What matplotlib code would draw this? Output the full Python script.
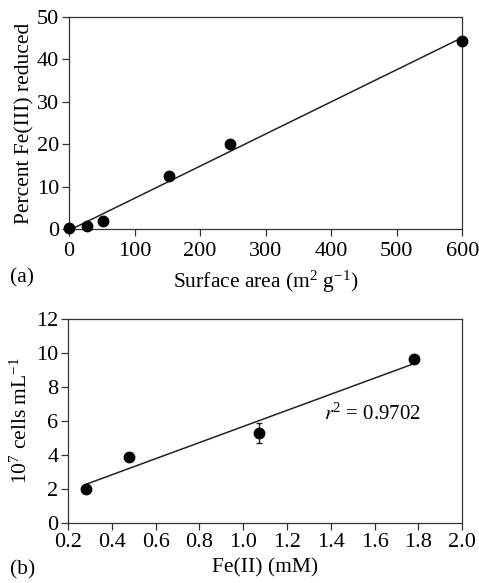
import numpy as np
import matplotlib
matplotlib.use("Agg")
import matplotlib.pyplot as plt

# panel (a) data
area = [0, 27, 52, 153, 245, 600]
pct_reduced = [0.3, 0.8, 1.8, 12.5, 20.0, 44.3]

# panel (b) data
fe2 = [0.28, 0.48, 1.07, 1.78]
cells = [2.0, 3.9, 5.3, 9.65]
cells_err = [0, 0, 0.6, 0]

plt.rcParams['font.family'] = ['Liberation Serif', 'DejaVu Serif']
plt.rcParams['mathtext.fontset'] = 'stix'
plt.rcParams['mathtext.default'] = 'regular'
plt.rcParams['font.size'] = 15.5
plt.rcParams['xtick.labelsize'] = 16
plt.rcParams['ytick.labelsize'] = 16

edge = '#333333'

fig = plt.figure(figsize=(4.79, 5.83), dpi=100)
ax1 = fig.add_axes([0.144, 0.607, 0.821, 0.364])
ax2 = fig.add_axes([0.142, 0.103, 0.823, 0.350])

for ax in (ax1, ax2):
    for s in ax.spines.values():
        s.set_color(edge)
        s.set_linewidth(0.9)
    ax.tick_params(direction='out', length=5, width=0.9, color=edge, pad=2)
ax1.tick_params(axis='x', pad=4)

# (a)
fit_a = np.polyfit(area, pct_reduced, 1)
xs = np.array([0, 600])
ax1.plot(xs, np.polyval(fit_a, xs), color='#222222', lw=1.1)
ax1.plot(area, pct_reduced, 'o', color='black', ms=7.5, clip_on=False, zorder=3)
ax1.set_xlim(0, 600)
ax1.set_ylim(0, 50)
ax1.set_xticks(range(0, 601, 100))
ax1.set_yticks(range(0, 51, 10))
ax1.set_ylabel('Percent Fe(III) reduced', labelpad=2)
ax1.set_xlabel('Surface area (m$^2$ g$^{-1}$)', labelpad=6)
fig.text(0.02, 0.524, '(a)', ha='left', va='center')

# (b)
fit_b = np.polyfit(fe2, cells, 1)
xb = np.array([min(fe2), max(fe2)])
ax2.plot(xb, np.polyval(fit_b, xb), color='#222222', lw=1.1)
ax2.errorbar(fe2, cells, yerr=cells_err, fmt='o', color='black', ms=7.5,
             ecolor='#222222', elinewidth=1, capsize=2.5, clip_on=False, zorder=3)
ax2.set_xlim(0.2, 2.0)
ax2.set_ylim(0, 12)
ax2.set_xticks(np.arange(0.2, 2.01, 0.2))
ax2.set_xticklabels([f'{v:.1f}' for v in np.arange(0.2, 2.01, 0.2)])
ax2.set_yticks(range(0, 13, 2))
ax2.set_ylabel('10$^7$ cells mL$^{-1}$', labelpad=3)
ax2.set_xlabel('Fe(II) (mM)', labelpad=5)
ax2.text(1.37, 6.4, '$\\mathit{r}^2$ = 0.9702', va='center', ha='left', fontsize=15)
fig.text(0.02, 0.022, '(b)', ha='left', va='center')

fig.savefig('out.png', dpi=100)
